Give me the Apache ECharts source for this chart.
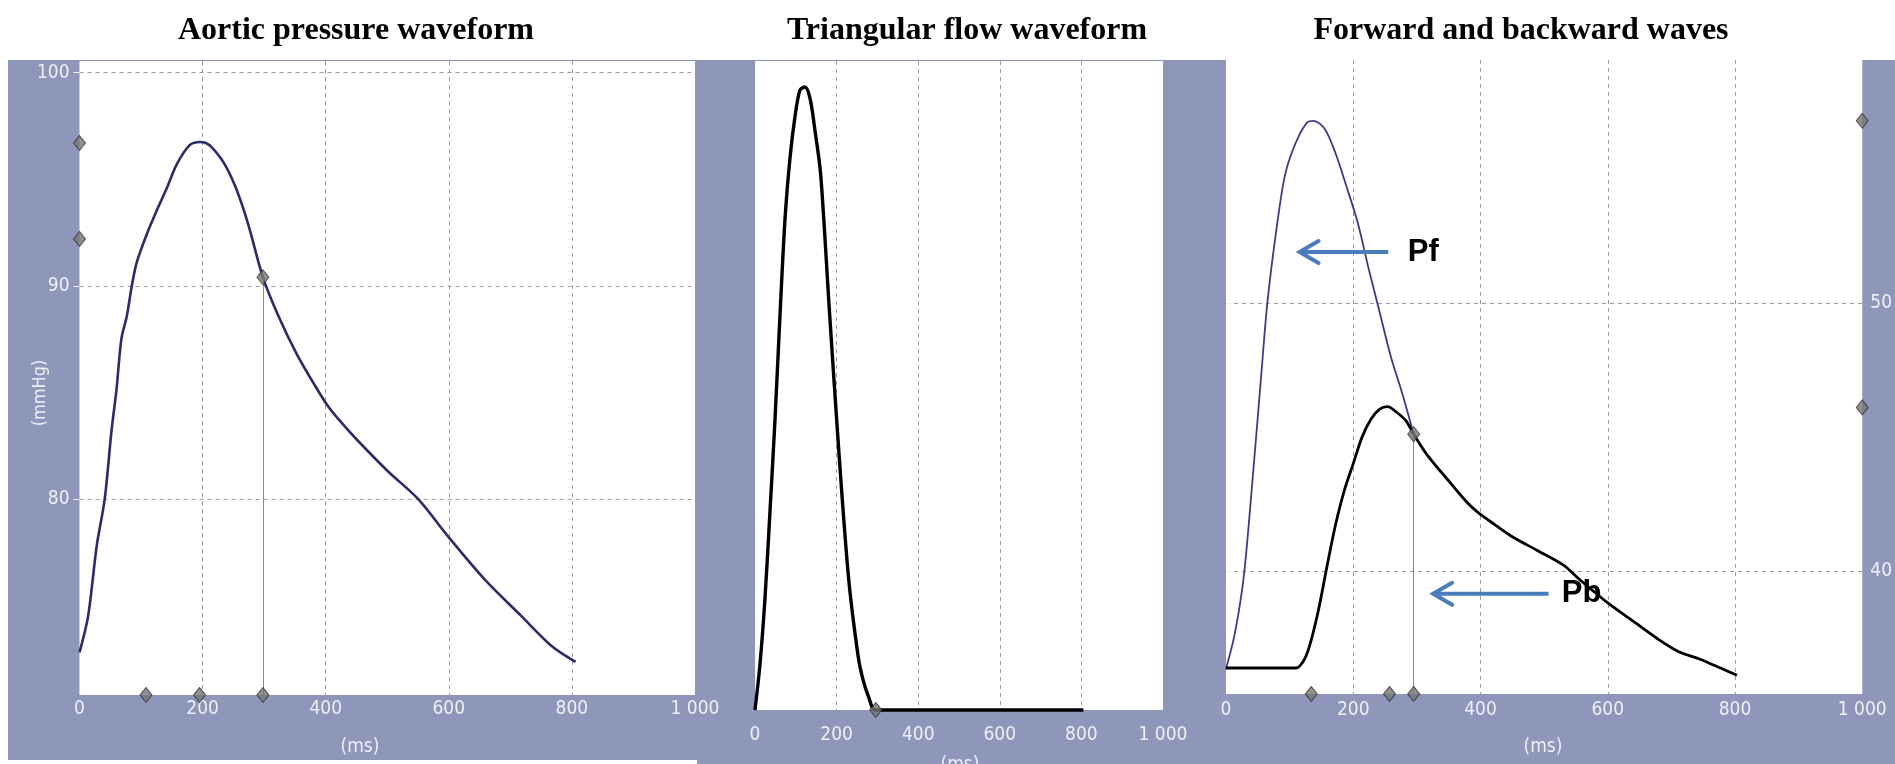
<!DOCTYPE html>
<html>
<head>
<meta charset="utf-8">
<script src="https://cdn.jsdelivr.net/npm/echarts@6/dist/echarts.min.js"></script>
<style>
  html, body { margin: 0; padding: 0; background: #ffffff; }
  #chart { width: 1895px; height: 764px; }
</style>
</head>
<body>
<div id="chart"></div>
<script>
// ---- data ----
const panelTitles = ['Aortic pressure waveform', 'Triangular flow waveform', 'Forward and backward waves'];
const timeTicks = [0, 200, 400, 600, 800, 1000];
const timeGrid = [200, 400, 600, 800];

// aortic pressure over one beat: time (ms), pressure (mmHg)
const pressureTime  = [0, 14, 28, 41, 52, 60, 68, 77, 85, 93, 109, 125, 142, 158, 179, 196, 205, 215, 235, 254, 274, 298, 323, 353, 383, 405, 425, 450, 501, 550, 600, 659, 718, 767, 806];
const pressureValue = [72.8, 74.5, 77.8, 80.0, 83.2, 85.1, 87.5, 88.6, 90.0, 91.1, 92.4, 93.5, 94.6, 95.7, 96.6, 96.75, 96.7, 96.5, 95.75, 94.6, 92.9, 90.4, 88.6, 86.8, 85.3, 84.3, 83.6, 82.8, 81.3, 80.0, 78.2, 76.2, 74.5, 73.1, 72.35];
const pressureRange = [70.8, 100.55];
const pressureTicks = [80, 90, 100];
const pressureAxisMarks = [96.7, 92.2];
const pressureTimeMarks = [108, 195, 298];
const pressureCursor = [298, 90.4];

// flow (arbitrary units)
const flowTime  = [0, 12, 24.5, 37, 49, 61, 73.5, 86, 98, 110, 122.5, 135, 147, 161, 182, 204, 229, 253, 265, 278, 296, 805];
const flowValue = [0, 6.9, 17.2, 30.9, 44.7, 60.5, 75.6, 85.2, 91.4, 95.5, 96.0, 94.2, 89.3, 82.5, 61.9, 41.2, 20.6, 8.2, 4.6, 2.1, 0, 0];
const flowRange = [0, 100];
const flowMarks = [296];

// forward (Pf) and backward (Pb) pressure waves
const forwardTime  = [0, 14, 28, 41, 55, 65, 79, 93, 110, 128, 138, 155, 172, 190, 207, 224, 241, 259, 276, 295];
const forwardValue = [36.33, 37.67, 39.8, 43.2, 47.2, 50.0, 52.7, 54.8, 56.0, 56.75, 56.8, 56.5, 55.6, 54.3, 53.0, 51.3, 49.7, 48.0, 46.7, 45.1];
const backwardTime  = [0, 110, 121, 131, 145, 159, 172, 186, 200, 214, 228, 241, 254, 269, 283, 295, 317, 352, 379, 395, 415, 448, 490, 531, 552, 572, 600, 641, 676, 710, 745, 779, 803];
const backwardValue = [36.37, 36.37, 36.6, 37.17, 38.5, 40.2, 41.7, 43.0, 44.0, 45.0, 45.67, 46.03, 46.13, 45.9, 45.6, 45.1, 44.3, 43.3, 42.55, 42.2, 41.85, 41.3, 40.75, 40.2, 39.75, 39.35, 38.8, 38.1, 37.5, 37.0, 36.7, 36.35, 36.1];
const waveRange = [35.4, 59.07];
const waveTicks = [40, 50];
const waveAxisMarks = [56.8, 46.1];
const waveTimeMarks = [134, 257, 295];
const waveCursor = [295, 45.1];

// arrow annotations: [tail time, head time, level, label time, label index]
const waveLabels = ['Pf', 'Pb'];
const waveArrows = [
  [255, 114, 51.9, 310, 0],
  [507, 324, 39.14, 559, 1]
];

// ---- styling ----
const PANEL = '#8e96b9';
const LABEL = '#eef0f6';
const AXIS_FONT = '"Liberation Sans Narrow", "DejaVu Sans Condensed", sans-serif';
const GRID_LINE = { show: true, lineStyle: { color: '#9c9c9c', width: 1, type: [4, 4] } };
const zip = (a, b) => a.map((v, i) => [v, b[i]]);
const centered = { align: 'center', verticalAlign: 'middle', textAlign: 'center', textVerticalAlign: 'middle' };

function timeAxis(gridIndex, margin) {
  return {
    type: 'value', gridIndex, min: 0, max: 1000, interval: 200,
    axisLine: { show: false },
    axisTick: { show: false, customValues: timeGrid },
    splitLine: GRID_LINE,
    axisLabel: {
      customValues: timeTicks, color: LABEL, fontSize: 19, fontFamily: AXIS_FONT, margin,
      formatter: v => (v === 1000 ? '1 000' : String(v))
    }
  };
}

const diamond = {
  type: 'scatter', symbol: 'diamond', symbolSize: [12, 15], clip: false, z: 10, silent: true,
  itemStyle: { color: '#767676', borderColor: '#333333', borderWidth: 1 }
};

function textEl(id, x, y, text, font, fill, extra) {
  return Object.assign({ id, type: 'text', x, y, style: Object.assign({ text, font, fill }, centered) }, extra || {});
}

const chart = echarts.init(document.getElementById('chart'), null, { renderer: 'canvas' });

const titleFont = 'bold 32px "Liberation Serif", "Times New Roman", serif';
const option = {
  animation: false,
  backgroundColor: '#ffffff',
  graphic: [
    { id: 'bg0', type: 'rect', z: -10, shape: { x: 8, y: 60, width: 690, height: 700 }, style: { fill: PANEL } },
    { id: 'bg1', type: 'rect', z: -10, shape: { x: 697, y: 60, width: 470, height: 704 }, style: { fill: PANEL } },
    { id: 'bg2', type: 'rect', z: -10, shape: { x: 1163, y: 60, width: 732, height: 704 }, style: { fill: PANEL } },
    textEl('t0', 356, 31, panelTitles[0], titleFont, '#000'),
    textEl('t1', 967, 31, panelTitles[1], titleFont, '#000'),
    textEl('t2', 1521, 31, panelTitles[2], titleFont, '#000'),
    textEl('ylab0', 40, 393, '(mmHg)', '18px ' + AXIS_FONT, LABEL, { rotation: Math.PI / 2 }),
    textEl('xlab0', 360, 747, '(ms)', '19px ' + AXIS_FONT, LABEL),
    textEl('xlab1', 960, 765, '(ms)', '19px ' + AXIS_FONT, LABEL),
    textEl('xlab2', 1543, 747, '(ms)', '19px ' + AXIS_FONT, LABEL)
  ],
  grid: [
    { left: 79.5, top: 61, width: 615.5, height: 634, show: true, backgroundColor: '#ffffff', borderWidth: 0 },
    { left: 755, top: 61, width: 408, height: 649, show: true, backgroundColor: '#ffffff', borderWidth: 0 },
    { left: 1226, top: 60, width: 647, height: 634, show: true, backgroundColor: '#ffffff', borderWidth: 0 }
  ],
  xAxis: [timeAxis(0, 5), timeAxis(1, 16), timeAxis(2, 7)],
  yAxis: [
    {
      type: 'value', gridIndex: 0, min: pressureRange[0], max: pressureRange[1],
      axisLine: { show: false },
      axisTick: { show: true, customValues: pressureTicks, length: 6, lineStyle: { color: LABEL } },
      splitLine: GRID_LINE,
      axisLabel: { customValues: pressureTicks, color: LABEL, fontSize: 19, fontFamily: AXIS_FONT, margin: 10 }
    },
    {
      type: 'value', gridIndex: 1, min: flowRange[0], max: flowRange[1],
      axisLine: { show: false }, axisTick: { show: false }, splitLine: { show: false }, axisLabel: { show: false }
    },
    {
      type: 'value', gridIndex: 2, position: 'right', min: waveRange[0], max: waveRange[1],
      axisLine: { show: false },
      axisTick: { show: true, customValues: waveTicks, length: 6, lineStyle: { color: LABEL } },
      splitLine: GRID_LINE,
      axisLabel: { customValues: waveTicks, color: LABEL, fontSize: 19, fontFamily: AXIS_FONT, margin: 8 }
    }
  ],
  series: [
    {
      name: 'Aortic pressure', type: 'line', xAxisIndex: 0, yAxisIndex: 0,
      data: zip(pressureTime, pressureValue), symbol: 'none', smooth: 0.3,
      lineStyle: { color: '#2b2b6c', width: 2.6 },
      markLine: {
        silent: true, symbol: 'none', label: { show: false },
        lineStyle: { color: '#8a8a8a', width: 1, type: 'solid' },
        data: [[{ coord: pressureCursor }, { coord: [pressureCursor[0], pressureRange[0]] }]]
      }
    },
    Object.assign({}, diamond, {
      xAxisIndex: 0, yAxisIndex: 0,
      data: pressureAxisMarks.map(v => [0, v])
        .concat(pressureTimeMarks.map(t => [t, pressureRange[0]]))
        .concat([pressureCursor])
    }),
    {
      name: 'Flow', type: 'line', xAxisIndex: 1, yAxisIndex: 1, clip: false,
      data: zip(flowTime, flowValue), symbol: 'none', smooth: 0.3,
      lineStyle: { color: '#000000', width: 3.4 }
    },
    Object.assign({}, diamond, {
      xAxisIndex: 1, yAxisIndex: 1,
      data: flowMarks.map(t => [t, flowRange[0]])
    }),
    {
      name: 'Pf', type: 'line', xAxisIndex: 2, yAxisIndex: 2,
      data: zip(forwardTime, forwardValue), symbol: 'none', smooth: 0.3,
      lineStyle: { color: '#3c3c86', width: 1.8 }
    },
    {
      name: 'Pb', type: 'line', xAxisIndex: 2, yAxisIndex: 2, z: 3,
      data: zip(backwardTime, backwardValue), symbol: 'none', smooth: 0.3,
      lineStyle: { color: '#000000', width: 2.8 },
      markLine: {
        silent: true, symbol: 'none', label: { show: false },
        lineStyle: { color: '#8a8a8a', width: 1, type: 'solid' },
        data: [[{ coord: waveCursor }, { coord: [waveCursor[0], waveRange[0]] }]]
      }
    },
    Object.assign({}, diamond, {
      xAxisIndex: 2, yAxisIndex: 2,
      data: waveAxisMarks.map(v => [1000, v])
        .concat(waveTimeMarks.map(t => [t, waveRange[0]]))
        .concat([waveCursor])
    }),
    {
      name: 'Wave labels', type: 'custom', xAxisIndex: 2, yAxisIndex: 2, silent: true, z: 12,
      data: waveArrows,
      renderItem: function (params, api) {
        const tail = api.coord([api.value(0), api.value(2)]);
        const head = api.coord([api.value(1), api.value(2)]);
        const lab = api.coord([api.value(3), api.value(2)]);
        const color = '#4a7dbb';
        return {
          type: 'group',
          children: [
            { type: 'line', shape: { x1: tail[0], y1: tail[1], x2: head[0] + 2, y2: head[1] }, style: { stroke: color, lineWidth: 4 } },
            { type: 'polyline', shape: { points: [[head[0] + 20, head[1] - 11], [head[0] + 1, head[1]], [head[0] + 20, head[1] + 11]] }, style: { stroke: color, lineWidth: 4, fill: null, lineJoin: 'miter', lineCap: 'round' } },
            { type: 'text', x: lab[0], y: lab[1], style: Object.assign({ text: waveLabels[api.value(4)], font: 'bold 31px "Liberation Sans", Arial, sans-serif', fill: '#000' }, centered) }
          ]
        };
      }
    }
  ]
};

chart.setOption(option);
</script>
</body>
</html>
